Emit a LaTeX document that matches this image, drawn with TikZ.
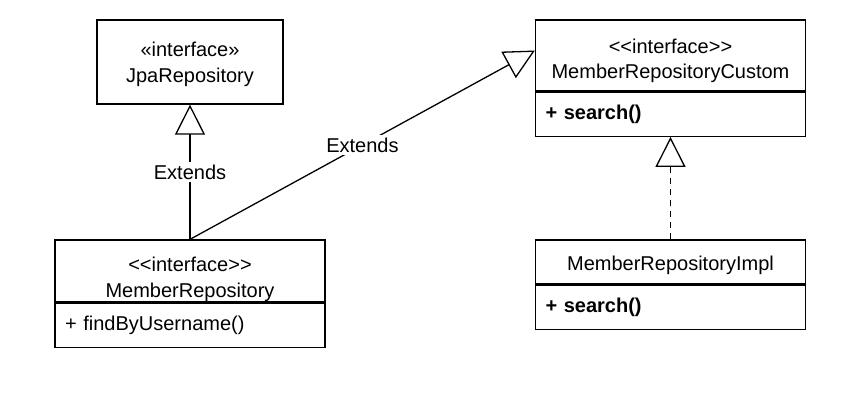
\documentclass[tikz,border=0pt]{standalone}
\usepackage{fontspec}
\setmainfont{Liberation Sans}
\usetikzlibrary{arrows.meta}
\usetikzlibrary{positioning}

\newcommand{\stereo}[1]{<\kern0pt<#1>\kern0pt>}
\newcommand{\toppad}[1]{\rule{0pt}{#1}}

\tikzset{
  classhead/.style={draw, line width=0.65pt, minimum width=135pt, align=center, inner sep=0pt, font=\fontsize{10}{12.8}\selectfont},
  classbody/.style={draw, line width=0.65pt, text width=125pt, minimum height=22pt, inner xsep=5pt, inner ysep=0pt, align=left, font=\fontsize{10}{13}\selectfont},
  extends/.style={-{Triangle[open, length=15pt, width=15pt]}, line width=0.65pt},
  realizes/.style={extends, dash pattern=on 3pt off 2.5pt},
  edgelabel/.style={fill=white, inner sep=1.5pt, font=\fontsize{10}{13}\selectfont},
}

\begin{document}
\begin{tikzpicture}[x=0.5pt, y=-0.5pt]
        \useasboundingbox (0,0) rectangle (845,416);

        % spring data interface
        \node [classhead, minimum width=93pt, minimum height=42pt] (jpa) at (190,62) {\toppad{9.5pt}«interface»\\JpaRepository};

        % custom interface and its implementation
        \node [classhead, minimum height=35.5pt] (customhead) at (670.5,55.5) {\toppad{12.5pt}\stereo{interface}\\MemberRepositoryCustom};
        \node [classbody, below=0pt of customhead] (custombody) {\textbf{+ search()}};

        \node [classhead, minimum height=22pt] (implhead) at (670.5,262) {\toppad{10.5pt}MemberRepositoryImpl};
        \node [classbody, below=0pt of implhead] (implbody) {\textbf{+ search()}};

        % repository used by the service
        \node [classhead, minimum height=31pt] (repohead) at (190,271) {\toppad{15.5pt}\stereo{interface}\\MemberRepository};
        \node [classbody, below=0pt of repohead] (repobody) {+ findByUsername()};

        % relations
        \draw [extends] (repohead.north) -- node [edgelabel] {Extends} (jpa.south);
        \draw [extends] (repohead.north) -- node [edgelabel] {Extends} ([yshift=2.5pt]customhead.west);
        \draw [realizes] (implhead.north) -- (custombody.south);

\end{tikzpicture}
\end{document}
